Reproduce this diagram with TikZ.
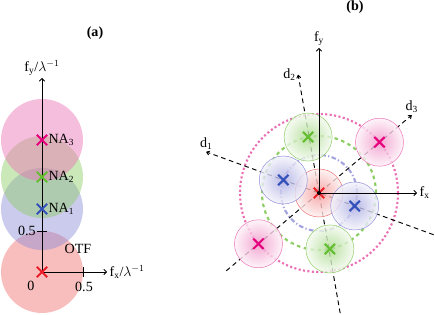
\documentclass[tikz,border=0pt]{standalone}
\usepackage{fontspec}
\setmainfont{Liberation Serif}
\usepackage{xcolor}
\usetikzlibrary{positioning,shapes.misc,arrows.meta}

\definecolor{otfred}{RGB}{240,110,110}
\definecolor{nablue}{RGB}{140,140,215}
\definecolor{nagreen}{RGB}{140,205,100}
\definecolor{napink}{RGB}{235,110,180}
\definecolor{mkred}{RGB}{235,30,40}
\definecolor{mkblue}{RGB}{50,80,185}
\definecolor{mkgreen}{RGB}{100,190,50}
\definecolor{mkpink}{RGB}{230,0,125}

\begin{document}
\begin{tikzpicture}[
      x=0.03cm, y=0.03cm,
      every node/.style={font=\fontsize{12}{14}\selectfont},
      disk/.style={circle, inner sep=0pt, minimum size=2.46cm, fill opacity=0.45},
      spot/.style={circle, inner sep=0pt, minimum size=1.44cm, draw=#1, thin, fill opacity=0.8, inner color=#1!75, outer color=#1!10},
      xmark/.style={cross out, draw=#1, line width=1.8pt, inner sep=0pt, minimum size=7pt},
      axis/.style={-{To[length=3pt,width=5pt]}, thick},
      dir/.style={-{To[length=3pt,width=4pt]}, thick, dash pattern=on 4pt off 3pt},
      ring/.style={line width=1.8pt}
    ]
      \useasboundingbox (0,0) rectangle (435,315);

      \coordinate (oa) at (42,43);
      \coordinate (xa) at (107,43);
      \coordinate (ya) at (42,237);
      \node[disk, fill=otfred] (otf) at (oa) {};
      \node[disk, fill=nablue] (na1) at (42,106) {};
      \node[disk, fill=nagreen] (na2) at (42,138) {};
      \node[disk, fill=napink] (na3) at (42,175) {};

      \draw[axis] (oa) -- (xa);
      \draw[axis] (oa) -- (ya);
      \draw[thick] (83,38) -- (83,48);
      \draw[thick] (37,84) -- (47,84);

      \node[xmark=mkred] (m0) at (otf) {};
      \node[xmark=mkblue] (m1) at (na1) {};
      \node[xmark=mkgreen] (m2) at (na2) {};
      \node[xmark=mkpink] (m3) at (na3) {};
      \node[right=0pt of m1, inner sep=1pt] (l1) {NA\textsubscript{1}};
      \node[right=0pt of m2, inner sep=1pt] (l2) {NA\textsubscript{2}};
      \node[right=0pt of m3, inner sep=1pt] (l3) {NA\textsubscript{3}};

      \node[anchor=west, inner sep=2pt] (xlab) at (xa) {f\textsubscript{x}/$\lambda^{-1}$};
      \node[anchor=south, inner sep=2pt] (ylab) at (ya) {f\textsubscript{y}/$\lambda^{-1}$};
      \node (otflab) at (78,66) {OTF};
      \node[anchor=east, inner sep=1pt] (t05y) at (37,84) {0.5};
      \node (t0) at (31,29) {0};
      \node (t05x) at (84,28) {0.5};
      \node (tita) at (95,282) {\textbf{(a)}};

      \coordinate (cb) at (319,122);
      \draw[ring, napink, dotted] (cb) circle[radius=79];
      \draw[ring, nagreen, dashed] (cb) circle[radius=57];
      \draw[ring, nablue!80, dash pattern=on 4pt off 2pt on 1pt off 2pt] (cb) circle[radius=38];

      \coordinate (d1a) at ([shift={(160:120)}]cb);
      \coordinate (d1b) at ([shift={(-20:122)}]cb);
      \coordinate (d2a) at ([shift={(100:120)}]cb);
      \coordinate (d2b) at ([shift={(-80:122)}]cb);
      \coordinate (d3a) at ([shift={(40:121)}]cb);
      \coordinate (d3b) at ([shift={(220:121)}]cb);
      \draw[dir] (d1b) -- (d1a);
      \draw[dir] (d2b) -- (d2a);
      \draw[dir] (d3b) -- (d3a);

      \node[spot=otfred] (s0) at (cb) {};
      \node[spot=nablue] (s1) at ([shift={(160:38)}]cb) {};
      \node[spot=nablue] (s2) at ([shift={(-20:38)}]cb) {};
      \node[spot=nagreen] (s3) at ([shift={(101:57)}]cb) {};
      \node[spot=nagreen] (s4) at ([shift={(-79:57)}]cb) {};
      \node[spot=napink] (s5) at ([shift={(40:79)}]cb) {};
      \node[spot=napink] (s6) at ([shift={(220:79)}]cb) {};

      \coordinate (xb) at (417,122);
      \coordinate (yb) at (319,267);
      \draw[axis] (cb) -- (xb);
      \draw[axis] (cb) -- (yb);

      \node[xmark=mkred] (n0) at (s0) {};
      \fill (cb) circle[radius=2];
      \node[xmark=mkblue] (n1) at (s1) {};
      \node[xmark=mkblue] (n2) at (s2) {};
      \node[xmark=mkgreen] (n3) at (s3) {};
      \node[xmark=mkgreen] (n4) at (s4) {};
      \node[xmark=mkpink] (n5) at (s5) {};
      \node[xmark=mkpink] (n6) at (s6) {};

      \node[anchor=west, inner sep=2pt] (fxlab) at (xb) {f\textsubscript{x}};
      \node[anchor=south, inner sep=2pt] (fylab) at (yb) {f\textsubscript{y}};
      \node[anchor=south, inner sep=2pt] (d1lab) at (d1a) {d\textsubscript{1}};
      \node[anchor=east, inner sep=2pt] (d2lab) at (d2a) {d\textsubscript{2}};
      \node[anchor=south, inner sep=2pt] (d3lab) at (d3a) {d\textsubscript{3}};
      \node (titb) at (355,308) {\textbf{(b)}};
    \end{tikzpicture}
\end{document}
